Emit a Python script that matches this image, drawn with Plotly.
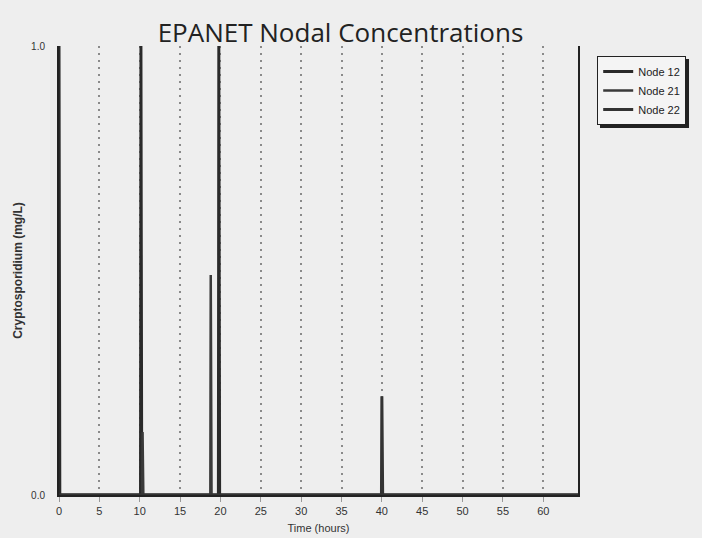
import plotly.graph_objects as go

# Data (hours, mg/L)
node12_time = [0.0, 0.0, 0.1, 10.1, 10.15, 10.25, 19.75, 19.8, 19.9, 64.3]
node12_conc = [0.0, 1.0, 0.0, 0.0, 1.0, 0.0, 0.0, 1.0, 0.0, 0.0]
node21_time = [0.0, 10.3, 10.35, 10.45, 18.75, 18.8, 18.9, 64.3]
node21_conc = [0.0, 0.0, 0.14, 0.0, 0.0, 0.49, 0.0, 0.0]
node22_time = [0.0, 39.95, 40.0, 40.1, 64.3]
node22_conc = [0.0, 0.0, 0.22, 0.0, 0.0]

x_ticks = list(range(0, 61, 5))
y_ticks = [0.0, 1.0]
y_ticktext = ["0.0", "1.0"]

fig = go.Figure()
fig.add_trace(go.Scatter(x=node12_time, y=node12_conc, mode="lines", name="Node 12",
                         line=dict(color="#2a2a2a", width=3)))
fig.add_trace(go.Scatter(x=node21_time, y=node21_conc, mode="lines", name="Node 21",
                         line=dict(color="#3a3a3a", width=2.5)))
fig.add_trace(go.Scatter(x=node22_time, y=node22_conc, mode="lines", name="Node 22",
                         line=dict(color="#333333", width=3)))

bg = "#eeeeee"
fig.update_layout(
    width=702, height=538,
    paper_bgcolor=bg, plot_bgcolor=bg,
    margin=dict(l=59, r=124, t=46, b=43, autoexpand=False),
    font=dict(family="Liberation Sans, Arial, sans-serif", color="#333333", size=10),
    title=dict(text="EPANET Nodal Concentrations", x=0.485, xanchor="center",
               y=0.938, yanchor="middle",
               font=dict(family="Open Sans, sans-serif", size=26, color="#222222")),
    showlegend=True,
    legend=dict(x=1.037, y=0.978, xanchor="left", yanchor="top",
                bgcolor="#f4f4f4", bordercolor="#222222", borderwidth=1,
                font=dict(size=11, color="#222222"), tracegroupgap=0,
                itemwidth=30),
    xaxis=dict(range=[0, 64.3], tickvals=x_ticks, showgrid=True,
               gridcolor="#8a8a8a", griddash="2px,5px", gridwidth=1.5,
               showline=True, linecolor="#222222", linewidth=2,
               ticks="outside", ticklen=5, tickcolor="#999999",
               zeroline=False, automargin=False,
               title=dict(text="Time (hours)", font=dict(size=11), standoff=8),
               tickfont=dict(size=11)),
    yaxis=dict(range=[0, 1], tickvals=y_ticks, ticktext=y_ticktext,
               showgrid=True, gridcolor="#777777", griddash="2px,2px", gridwidth=2,
               showline=True, mirror=True, linecolor="#222222", linewidth=2,
               zeroline=False, ticks="", automargin=False, ticklabelstandoff=10,
               title=dict(text="<b>Cryptosporidium (mg/L)</b>", font=dict(size=12), standoff=6),
               tickfont=dict(size=10)),
    shapes=[dict(type="rect", xref="paper", yref="paper",
                 x0=1.0424, x1=1.2139, y0=0.8174, y1=0.971,
                 fillcolor="#222222", line=dict(width=0), layer="below")],
)

fig.write_html("out.html", config={"displayModeBar": False},
               post_script="document.body.style.margin='0';")
